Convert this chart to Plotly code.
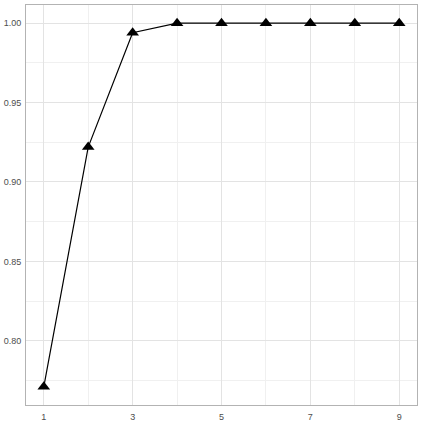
import plotly.graph_objects as go

# values
x_vals = [1, 2, 3, 4, 5, 6, 7, 8, 9]
y_vals = [0.771, 0.922, 0.994, 1.0, 1.0, 1.0, 1.0, 1.0, 1.0]
x_ticks = [1, 3, 5, 7, 9]
y_ticks = [0.80, 0.85, 0.90, 0.95, 1.00]
y_tick_labels = ['0.80', '0.85', '0.90', '0.95', '1.00']

fig = go.Figure()

fig.add_trace(go.Scatter(
    x=x_vals, y=y_vals,
    mode='lines+markers',
    line=dict(color='black', width=1.2),
    marker=dict(symbol='triangle-up', size=11, color='black'),
    showlegend=False,
    hoverinfo='x+y'
))

# ggplot-style 5% expansion
x_pad = (max(x_vals) - min(x_vals)) * 0.05
y_pad = (max(y_vals) - min(y_vals)) * 0.05

axis_common = dict(
    showgrid=True,
    gridcolor='#E3E3E3',
    gridwidth=0.8,
    showline=True,
    linecolor='#B3B3B3',
    linewidth=1,
    mirror=True,
    zeroline=False,
    ticks='',
    automargin=False,
    tickfont=dict(family='Liberation Sans, Arial', size=9, color='#4D4D4D'),
)

fig.update_layout(
    width=423, height=423,
    margin=dict(l=26, r=6, t=5, b=18),
    plot_bgcolor='white',
    paper_bgcolor='white',
    xaxis=dict(
        range=[min(x_vals) - x_pad, max(x_vals) + x_pad],
        tickvals=x_ticks,
        ticklabelstandoff=3,
        minor=dict(showgrid=True, gridcolor='#F0F0F0', gridwidth=0.5,
                   tickvals=[2, 4, 6, 8]),
        **axis_common
    ),
    yaxis=dict(
        range=[min(y_vals) - y_pad, max(y_vals) + y_pad],
        tickvals=y_ticks,
        ticktext=y_tick_labels,
        ticklabelstandoff=2,
        minor=dict(showgrid=True, gridcolor='#F0F0F0', gridwidth=0.5,
                   tickvals=[0.775, 0.825, 0.875, 0.925, 0.975]),
        **axis_common
    ),
)

fig.write_html("out.html", config={'displayModeBar': False},
               post_script="document.body.style.margin='0';")
